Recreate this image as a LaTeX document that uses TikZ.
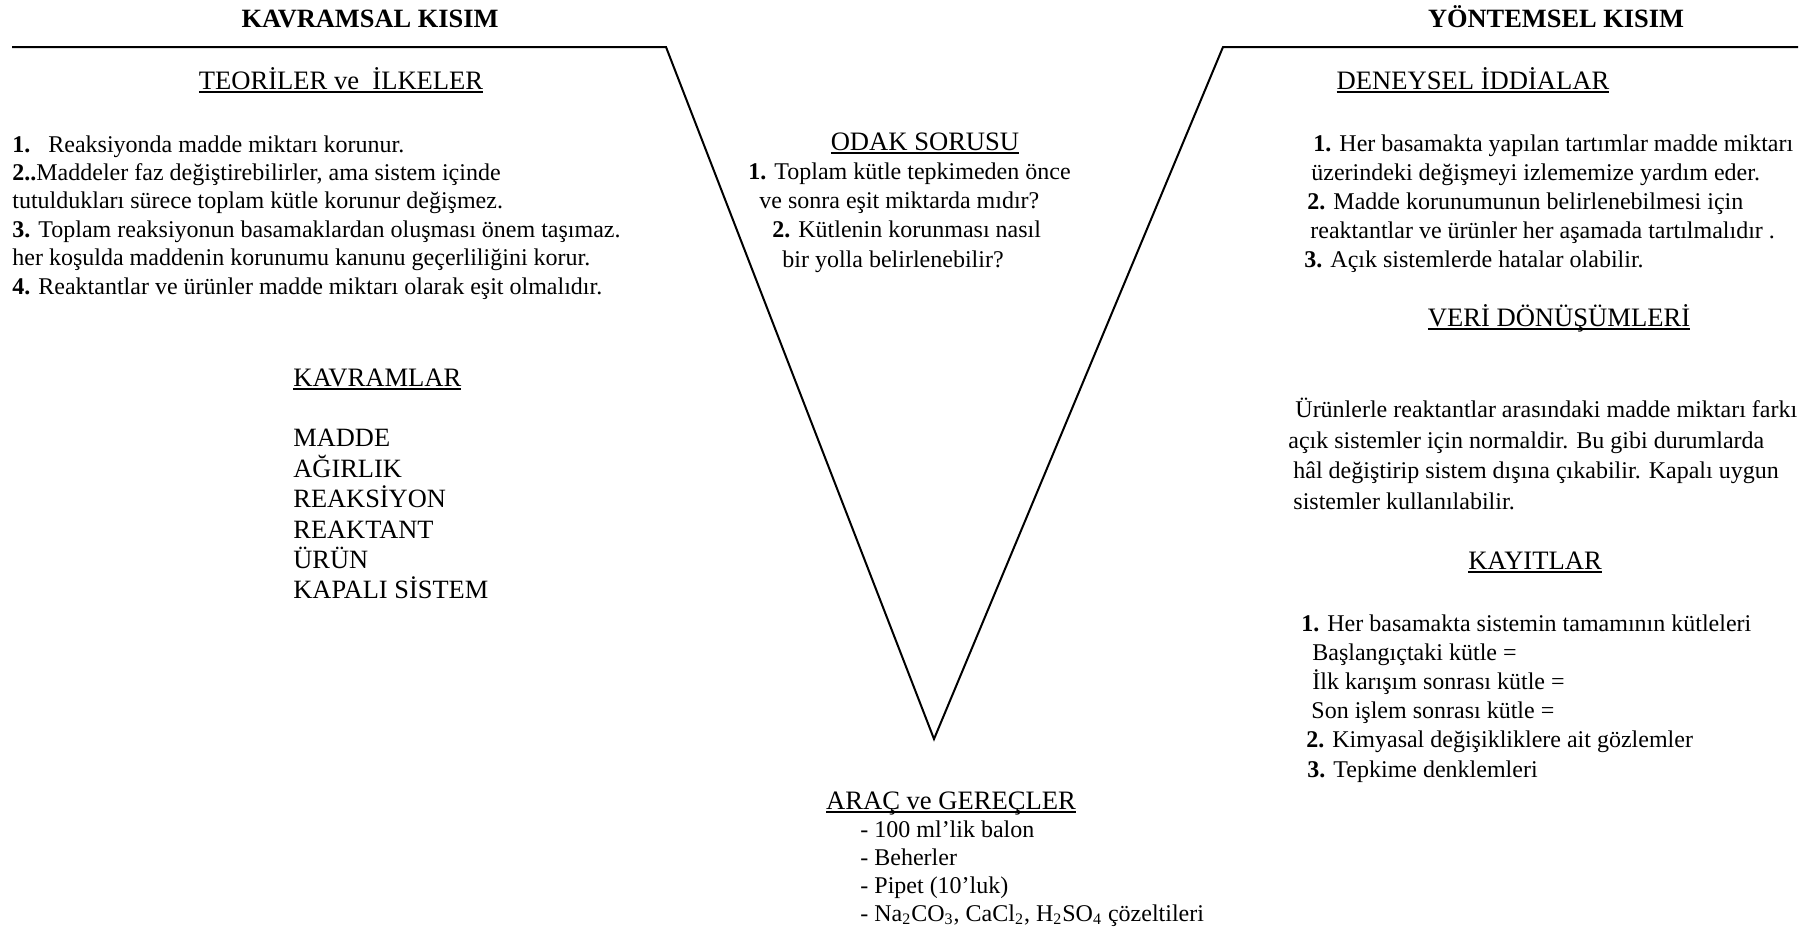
\documentclass[tikz,border=0pt]{standalone}
\usepackage{fontspec}
\setmainfont{Liberation Serif}
\newcommand{\undl}[1]{\setbox0\hbox{#1}\rlap{\rule[-2pt]{\wd0}{0.9pt}}\box0}
\tikzset{
	head/.style={font=\fontsize{13.2}{15}\selectfont\bfseries, inner sep=0pt, anchor=base},
	title/.style={font=\fontsize{13.3}{15}\selectfont, inner sep=0pt, anchor=base},
	items/.style={anchor=north west, align=left, inner sep=0pt},
}
\begin{document}
\begin{tikzpicture}[x=0.5pt, y=-0.5pt]
		\useasboundingbox (0,0) rectangle (1802,926);

		\coordinate (ltop) at (12,47);
		\coordinate (lcorner) at (666,47);
		\coordinate (vtip) at (934,739);
		\coordinate (rcorner) at (1223,47);
		\coordinate (rtop) at (1798,47);
		\draw[black, line width=1pt] (ltop) -- (lcorner) -- (vtip) -- (rcorner) -- (rtop);

		\node (kavramsal) [head] at (370,27) {KAVRAMSAL KISIM};
		\node (yontemsel) [head] at (1556,27) {YÖNTEMSEL KISIM};

		\node (teori) [title] at (341,89) {\undl{TEORİLER ve\ \ İLKELER}};
		\node (ilkeler) [items, font=\fontsize{12}{14.2}\selectfont] at (12,135) {\textbf{1.}\ \ \ Reaksiyonda madde miktarı korunur.\\
			\textbf{2..}Maddeler faz değiştirebilirler, ama sistem içinde\\
			tutuldukları sürece toplam kütle korunur değişmez.\\
			\textbf{3.} Toplam reaksiyonun basamaklardan oluşması önem taşımaz.\\
			her koşulda maddenin korunumu kanunu geçerliliğini korur.\\
			\textbf{4.} Reaktantlar ve ürünler madde miktarı olarak eşit olmalıdır.};

		\node (kavramlar) [title, anchor=base west] at (293,386) {\undl{KAVRAMLAR}};
		\node (kavram) [items, font=\fontsize{13.2}{15.2}\selectfont] at (293,429) {MADDE\\AĞIRLIK\\REAKSİYON\\REAKTANT\\ÜRÜN\\KAPALI SİSTEM};

		\node (odak) [title] at (925,150) {\undl{ODAK SORUSU}};
		\node (soru) [items, font=\fontsize{12}{14.7}\selectfont] at (748,162) {\textbf{1.} Toplam kütle tepkimeden önce\\
			\hspace{5.5pt}ve sonra eşit miktarda mıdır?\\
			\hspace{12pt}\textbf{2.} Kütlenin korunması nasıl\\
			\hspace{17pt}bir yolla belirlenebilir?};

		\node (arac) [title] at (951,809) {\undl{ARAÇ ve GEREÇLER}};
		\node (gerec) [items, font=\fontsize{12}{14}\selectfont] at (860,820) {- 100 ml’lik balon\\
			- Beherler\\
			- Pipet (10’luk)\\
			- Na\textsubscript{2}CO\textsubscript{3}, CaCl\textsubscript{2}, H\textsubscript{2}SO\textsubscript{4} çözeltileri};

		\node (deneysel) [title] at (1473,89) {\undl{DENEYSEL İDDİALAR}};
		\node (iddia) [items, font=\fontsize{12}{14.5}\selectfont] at (1304,134) {\hspace{4.5pt}\textbf{1.} Her basamakta yapılan tartımlar madde miktarı\\
			\hspace{3.5pt}üzerindeki değişmeyi izlememize yardım eder.\\
			\hspace{1.5pt}\textbf{2.} Madde korunumunun belirlenebilmesi için\\
			\hspace{3pt}reaktantlar ve ürünler her aşamada tartılmalıdır .\\
			\textbf{3.} Açık sistemlerde hatalar olabilir.};

		\node (veri) [title] at (1559,326) {\undl{VERİ DÖNÜŞÜMLERİ}};
		\node (donusum) [items, font=\fontsize{12}{15.2}\selectfont] at (1288,398) {\hspace{3.5pt}Ürünlerle reaktantlar arasındaki madde miktarı farkı\\
			açık sistemler için normaldir. Bu gibi durumlarda\\
			\hspace{2.5pt}hâl değiştirip sistem dışına çıkabilir. Kapalı uygun\\
			\hspace{2.5pt}sistemler kullanılabilir.};

		\node (kayitlar) [title] at (1535,569) {\undl{KAYITLAR}};
		\node (kayit) [items, font=\fontsize{12}{14.6}\selectfont] at (1301,614) {\textbf{1.} Her basamakta sistemin tamamının kütleleri\\
			\hspace{5.5pt}Başlangıçtaki kütle =\\
			\hspace{5.5pt}İlk karışım sonrası kütle =\\
			\hspace{5pt}Son işlem sonrası kütle =\\
			\hspace{2.5pt}\textbf{2.} Kimyasal değişikliklere ait gözlemler\\
			\hspace{3pt}\textbf{3.} Tepkime denklemleri};
	\end{tikzpicture}
\end{document}
